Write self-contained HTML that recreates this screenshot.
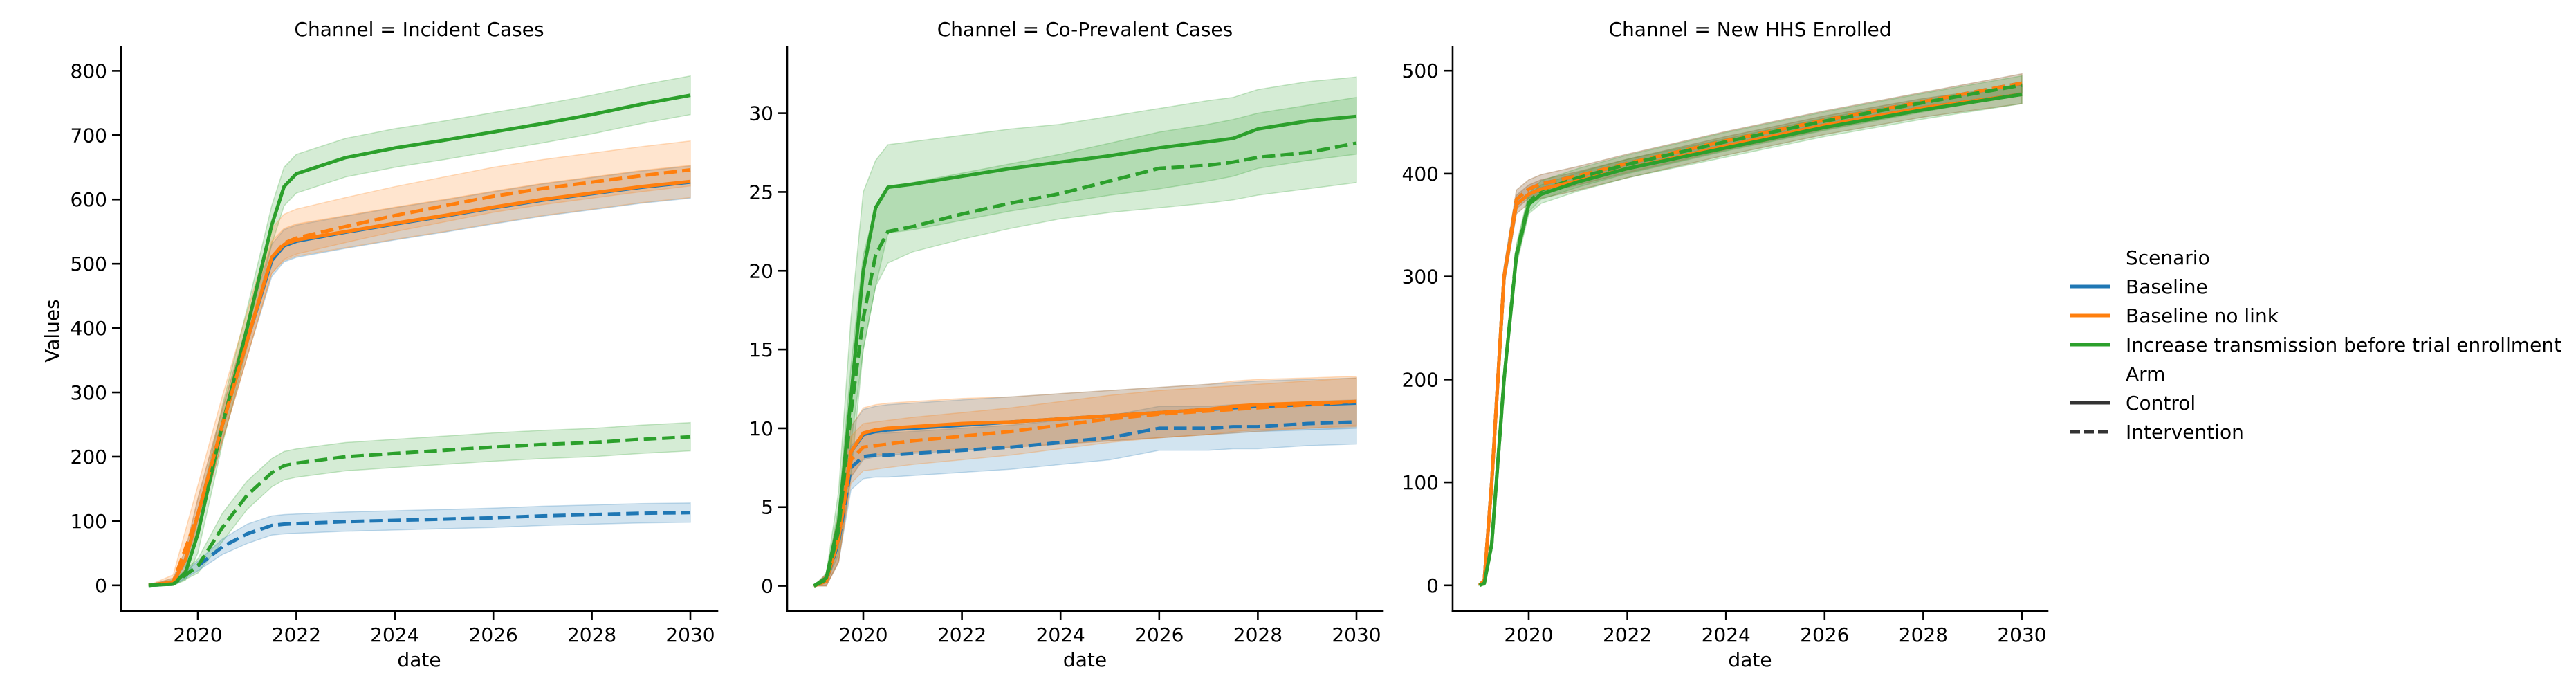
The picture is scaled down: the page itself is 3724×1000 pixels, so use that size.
<!DOCTYPE html>
<html><head><meta charset="utf-8"><style>
html,body{margin:0;padding:0;background:#fff}
svg{display:block;font-family:"DejaVu Sans","Liberation Sans",sans-serif}
</style></head><body>
<svg id="chart" width="3724" height="1000" viewBox="0 0 3724 1000" xmlns="http://www.w3.org/2000/svg"></svg>
<script>
// ---- data ----
const xTicks = [2020, 2022, 2024, 2026, 2028, 2030];
const panelTitles = ["Channel = Incident Cases", "Channel = Co-Prevalent Cases", "Channel = New HHS Enrolled"];
const scenarios = ["Baseline", "Baseline no link", "Increase transmission before trial enrollment"];
const arms = ["Control", "Intervention"];
const yTicks1 = [0,100,200,300,400,500,600,700,800];
const yTicks2 = [0,5,10,15,20,25,30];
const yTicks3 = [0,100,200,300,400,500];

// Incident Cases
const inc_t_early = [2019,2019.5,2019.75,2020,2020.5,2021,2021.5,2021.75,2022,2023,2024,2025,2026,2027,2028,2029,2030];
const inc_blue_ctrl = [0,5,40,110,250,380,505,528,535,549,562,574,587,599,609,619,627];
const inc_orange_ctrl = [0,5,40,110,250,380,510,530,537,550,563,575,588,600,610,620,628];
const inc_green_ctrl = [0,2,20,80,250,400,560,620,640,665,680,692,705,718,732,748,762];
const inc_t_dash = [2019,2019.5,2020,2020.5,2021,2021.5,2021.75,2022,2023,2024,2025,2026,2027,2028,2029,2030];
const inc_blue_int = [0,2,30,60,80,93,95,96,99,101,103,105,108,110,112,113];
const inc_orange_int = [0,5,110,250,380,510,532,540,558,575,590,605,617,627,637,646];
const inc_green_int = [0,2,30,90,140,175,186,190,200,205,210,215,219,222,227,231];
const inc_band = [30,25,15,22,25];

// Co-Prevalent Cases
const cp_t = [2019,2019.25,2019.5,2019.75,2020,2020.25,2020.5,2021,2022,2023,2024,2025,2026,2027,2027.5,2028,2029,2030];
const cp_green_ctrl = [0,0.5,4,12,20,24,25.3,25.5,26,26.5,26.9,27.3,27.8,28.2,28.4,29,29.5,29.8];
const cp_green_ctrl_hi = [0,0.8,6,17,25,27,28,28.2,28.6,29,29.3,29.8,30.3,30.8,31,31.5,32,32.3];
const cp_green_ctrl_lo = [0,0.2,2,7,15,19,20.5,21.2,22,22.7,23.3,23.7,24,24.3,24.5,24.8,25.2,25.6];
const cp_green_int = [0,0.4,3.5,11,17,21,22.5,22.8,23.6,24.3,24.9,25.7,26.5,26.7,26.9,27.2,27.5,28.1];
const cp_green_int_hi = [0,0.6,5,14,21,24,25.3,25.6,26.2,26.8,27.4,28.1,28.8,29.3,29.6,30,30.5,31];
const cp_green_int_lo = [0,0.2,2.5,9,15,19,22.4,22.6,23.2,23.8,24.3,24.8,25.2,25.7,26,26.5,27,27.4];
const cp_orange_ctrl = [0,0.3,3,8.5,9.7,9.9,10,10.1,10.3,10.4,10.6,10.8,11,11.2,11.4,11.5,11.6,11.7];
const cp_orange_int = [0,0.3,3,8,8.8,8.9,9,9.2,9.5,9.8,10.2,10.6,10.9,11.1,11.2,11.3,11.5,11.7];
const cp_blue_ctrl = [0,0.3,3,8.5,9.6,9.8,9.9,10,10.2,10.4,10.6,10.8,11,11.2,11.3,11.4,11.5,11.6];
const cp_blue_int = [0,0.3,2.8,7.5,8.2,8.3,8.3,8.4,8.6,8.8,9.1,9.4,10,10,10.1,10.1,10.3,10.4];
const cp_band = [1.6,1.6,1.4,1.5];

// New HHS Enrolled
const hhs_t = [2019,2019.1,2019.25,2019.5,2019.75,2020,2020.25,2021,2022,2024,2026,2028,2030];
const hhs_green_ctrl = [0,2,40,200,320,370,380,392,405,425,445,462,477];
const hhs_orange_ctrl = [0,5,100,300,370,380,385,393,405,427,447,464,477];
const hhs_blue_ctrl = [0,5,100,300,370,380,385,393,405,427,447,464,477];
const hhs_orange_int = [0,5,100,300,375,385,390,398,410,432,452,470,488];
const hhs_blue_int = [0,5,100,300,375,385,390,398,410,432,452,470,488];
const hhs_green_int = [0,2,40,200,322,372,384,396,409,431,451,469,486];
const hhs_band = 9;

// ---- rendering ----
const NS = "http://www.w3.org/2000/svg";
const svg = document.getElementById("chart");
const C = {blue:"#1f77b4", orange:"#ff7f0e", green:"#2ca02c"};
const FS = 28;
function mk(tag, attrs, parent){ const e=document.createElementNS(NS,tag); for(const k in attrs) e.setAttribute(k,attrs[k]); (parent||svg).appendChild(e); return e; }

const panels = [
  {left:175,right:1037,x0:2020,px0:286,x1:2030,px1:998,ymin:-40,ymax:837,ticks:yTicks1,ref:100},
  {left:1138,right:1999,x0:2020,px0:1248,x1:2030,px1:1961,ymin:-1.6,ymax:34.2,ticks:yTicks2,ref:4},
  {left:2100,right:2960,x0:2020,px0:2210,x1:2030,px1:2923,ymin:-25,ymax:523,ticks:yTicks3,ref:100}
];
const TOP=68, BOT=883;

function makeAxes(p){
  const xs = t => p.px0 + (t-p.x0)*(p.px1-p.px0)/(p.x1-p.x0);
  const ys = v => BOT - (v-p.ymin)*(BOT-TOP)/(p.ymax-p.ymin);
  return {xs, ys};
}
function band(g, ax, t, lo, hi, color, name){
  let d = "M"+t.map((tt,i)=>ax.xs(tt).toFixed(1)+","+ax.ys(hi[i]).toFixed(1)).join("L");
  for(let i=t.length-1;i>=0;i--) d += "L"+ax.xs(t[i]).toFixed(1)+","+ax.ys(lo[i]).toFixed(1);
  const e = mk("path",{d:d+"Z",fill:color,"fill-opacity":0.2,stroke:color,"stroke-opacity":0.25,"stroke-width":1.5},g);
  
  
}
function line(g, ax, t, v, color, dashed, name){
  const e = mk("polyline",{points:t.map((tt,i)=>ax.xs(tt).toFixed(1)+","+ax.ys(v[i]).toFixed(1)).join(" "),fill:"none",stroke:color,"stroke-width":5,"stroke-linejoin":"round"},g);
  if(dashed) e.setAttribute("stroke-dasharray","18.5 8");
  
  
}
let REF = 100;
const plus=(a,h)=>a.map(v=>v<=0?v:v+h*Math.min(1,v/REF+0.2)), minus=(a,h)=>a.map(v=>v<=0?v:Math.max(0,v-h*Math.min(1,v/REF+0.2)));

panels.forEach((p,pi)=>{
  REF = p.ref;
  const g = mk("g",{});
  
  
  const ax = makeAxes(p);
  const ttl = mk("text",{x:(p.left+p.right)/2,y:52,"text-anchor":"middle","font-size":FS,fill:"#000"},g);
  ttl.textContent = panelTitles[pi];
  
  
  const series = mk("g",{},g);
  
  
  if(pi===0){
    const t=inc_t_early, td=inc_t_dash;
    band(series,ax,t,minus(inc_green_ctrl,inc_band[0]),plus(inc_green_ctrl,inc_band[0]),C.green,'band-green-control');
    band(series,ax,t,minus(inc_blue_ctrl,inc_band[1]),plus(inc_blue_ctrl,inc_band[1]),C.blue,'band-blue-control');
    band(series,ax,t,minus(inc_orange_ctrl,inc_band[1]),plus(inc_orange_ctrl,inc_band[1]),C.orange,'band-orange-control');
    band(series,ax,td,minus(inc_orange_int,inc_band[4]),plus(inc_orange_int,inc_band[4]+20),C.orange,'band-orange-intervention');
    band(series,ax,td,minus(inc_green_int,inc_band[3]),plus(inc_green_int,inc_band[3]),C.green,'band-green-intervention');
    band(series,ax,td,minus(inc_blue_int,inc_band[2]),plus(inc_blue_int,inc_band[2]),C.blue,'band-blue-intervention');
    line(series,ax,t,inc_blue_ctrl,C.blue,false,'line-baseline-control');
    line(series,ax,t,inc_orange_ctrl,C.orange,false,'line-baseline-no-link-control');
    line(series,ax,t,inc_green_ctrl,C.green,false,'line-increase-control');
    line(series,ax,td,inc_blue_int,C.blue,true,'line-baseline-intervention');
    line(series,ax,td,inc_orange_int,C.orange,true,'line-baseline-no-link-intervention');
    line(series,ax,td,inc_green_int,C.green,true,'line-increase-intervention');
  } else if(pi===1){
    const t=cp_t;
    band(series,ax,t,cp_green_ctrl_lo,cp_green_ctrl_hi,C.green,'band-green-control');
    band(series,ax,t,cp_green_int_lo,cp_green_int_hi,C.green,'band-green-intervention');
    band(series,ax,t,minus(cp_blue_int,cp_band[2]),plus(cp_blue_int,cp_band[2]),C.blue,'band-blue-intervention');
    band(series,ax,t,minus(cp_blue_ctrl,cp_band[1]),plus(cp_blue_ctrl,cp_band[1]),C.blue,'band-blue-control');
    band(series,ax,t,minus(cp_orange_int,cp_band[3]),plus(cp_orange_int,cp_band[3]),C.orange,'band-orange-intervention');
    band(series,ax,t,minus(cp_orange_ctrl,cp_band[0]),plus(cp_orange_ctrl,cp_band[0]),C.orange,'band-orange-control');
    line(series,ax,t,cp_blue_ctrl,C.blue,false,'line-baseline-control');
    line(series,ax,t,cp_blue_int,C.blue,true,'line-baseline-intervention');
    line(series,ax,t,cp_orange_int,C.orange,true,'line-baseline-no-link-intervention');
    line(series,ax,t,cp_orange_ctrl,C.orange,false,'line-baseline-no-link-control');
    line(series,ax,t,cp_green_int,C.green,true,'line-increase-intervention');
    line(series,ax,t,cp_green_ctrl,C.green,false,'line-increase-control');
  } else {
    const t=hhs_t;
    [[hhs_blue_ctrl,C.blue],[hhs_orange_ctrl,C.orange],[hhs_green_ctrl,C.green],[hhs_blue_int,C.blue],[hhs_orange_int,C.orange],[hhs_green_int,C.green]].forEach(([a,c],i)=>band(series,ax,t,minus(a,hhs_band),plus(a,hhs_band),c,'band-'+i));
    line(series,ax,t,hhs_blue_ctrl,C.blue,false,'line-baseline-control');
    line(series,ax,t,hhs_blue_int,C.blue,true,'line-baseline-intervention');
    line(series,ax,t,hhs_orange_int,C.orange,true,'line-baseline-no-link-intervention');
    line(series,ax,t,hhs_green_int,C.green,true,'line-increase-intervention');
    line(series,ax,t,hhs_orange_ctrl,C.orange,false,'line-baseline-no-link-control');
    line(series,ax,t,hhs_green_ctrl,C.green,false,'line-increase-control');
  }
  const sl = mk("line",{x1:p.left,y1:TOP,x2:p.left,y2:BOT,stroke:"#000","stroke-width":2.6,"stroke-linecap":"square"},g);
   
  const sb = mk("line",{x1:p.left,y1:BOT,x2:p.right,y2:BOT,stroke:"#000","stroke-width":2.6,"stroke-linecap":"square"},g);
   
  p.ticks.forEach(v=>{
    const y=ax.ys(v);
    const tk = mk("line",{x1:p.left-13,y1:y,x2:p.left,y2:y,stroke:"#000","stroke-width":2.6},g);
     
    const tl = mk("text",{x:p.left-20,y:y+10,"text-anchor":"end","font-size":FS,fill:"#000"},g);
    tl.textContent = v;
     
  });
  xTicks.forEach(v=>{
    const x=ax.xs(v);
    const tk = mk("line",{x1:x,y1:BOT,x2:x,y2:BOT+13,stroke:"#000","stroke-width":2.6},g);
     
    const tl = mk("text",{x:x,y:BOT+44,"text-anchor":"middle","font-size":FS,fill:"#000"},g);
    tl.textContent = v;
     
  });
  const xl = mk("text",{x:(p.left+p.right)/2,y:963,"text-anchor":"middle","font-size":FS,fill:"#000"},g);
  xl.textContent = "date";
   
});
const yl = mk("text",{x:0,y:0,transform:"translate(85,478) rotate(-90)","text-anchor":"middle","font-size":FS,fill:"#000"});
yl.textContent = "Values";
 

const lg = mk("g",{});


const legendRows = [
  ["Scenario",null,false],["Baseline",C.blue,false],["Baseline no link",C.orange,false],
  ["Increase transmission before trial enrollment",C.green,false],
  ["Arm",null,false],["Control","#333",false],["Intervention","#333",true]
];
legendRows.forEach((r,i)=>{
  const y = 372 + i*42;
  if(r[1]){
    const l = mk("line",{x1:2993,y1:y,x2:3051,y2:y,stroke:r[1],"stroke-width":5},lg);
    if(r[2]) l.setAttribute("stroke-dasharray","14 6");
     
  }
  const tx = mk("text",{x:3073,y:y+10,"font-size":FS,fill:"#000"},lg);
  tx.textContent = r[0];
  
  
});
</script>
</body></html>
